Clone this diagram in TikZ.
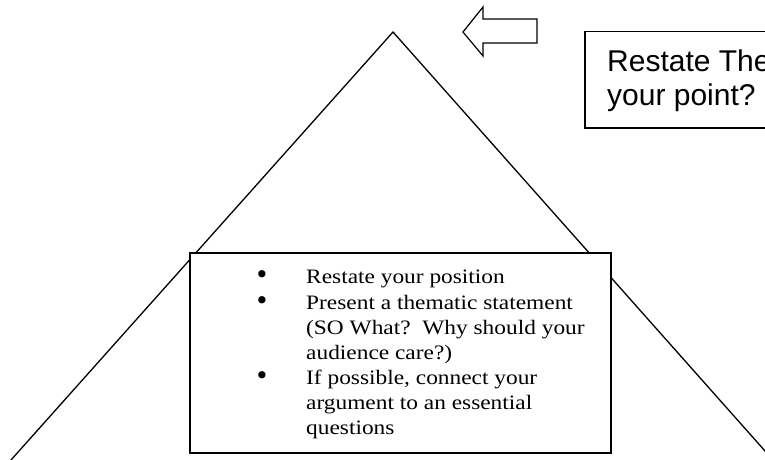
\documentclass[tikz,border=0pt]{standalone}
\usepackage{fontspec}
\usetikzlibrary{calc}
\setmainfont[FakeStretch=1.14]{Liberation Serif}
\newfontfamily\arialf{Liberation Sans}
\newfontfamily\dotf{DejaVu Sans}
\begin{document}
\begin{tikzpicture}[x=1pt,y=-1pt,
  edge/.style={line width=1.3pt, line cap=round},
  frame/.style={draw, line width=1.8pt, fill=white},
  item/.style={anchor=base west, inner sep=0pt, font=\fontsize{20.5}{25}\selectfont},
  dot/.style={anchor=center, inner sep=0pt, font=\dotf\fontsize{25}{26}\selectfont},
  thesistext/.style={anchor=base west, inner sep=0pt, font=\arialf\fontsize{30}{34}\selectfont}]
\useasboundingbox (0,0) rectangle (765,460);
\clip (0,0) rectangle (765,460);
\fill[white] (0,0) rectangle (765,460);
% triangle
\coordinate (apex) at (393,32);
\coordinate (bl) at ($(apex)!1.05!(11,460)$);
\coordinate (br) at ($(apex)!1.05!(765,451)$);
\draw[edge, line join=miter] (bl) -- (apex) -- (br);
% bullet box
\node[frame, anchor=north west, minimum width=421pt, minimum height=200pt, inner sep=0pt] (box) at (189,252) {};
\node[dot] (b1) at (262,277) {•};
\node[dot] (b2) at (262,303) {•};
\node[dot] (b3) at (262,378) {•};
\node[item] (t1) at (306,283) {Restate your position};
\node[item] (t2) at (306,309) {Present a thematic statement};
\node[item] (t3) at (306,334) {(SO What?\ \ Why should your};
\node[item] (t4) at (306,359) {audience care?)};
\node[item] (t5) at (306,384) {If possible, connect your};
\node[item] (t6) at (306,409) {argument to an essential};
\node[item] (t7) at (306,434) {questions};
% arrow
\draw[line width=1.2pt, line join=miter] (463,32) -- (483,7) -- (483,19) -- (537,19) -- (537,43) -- (483,43) -- (483,56) -- cycle;
% thesis box
\node[draw, line width=1.5pt, fill=white, anchor=north west, minimum width=220pt, minimum height=96pt, inner sep=0pt] (thesis) at (584,31) {};
\node[thesistext] (l1) at (607,71) {Restate The};
\node[thesistext] (l2) at (607,105) {your point?};
\end{tikzpicture}
\end{document}
